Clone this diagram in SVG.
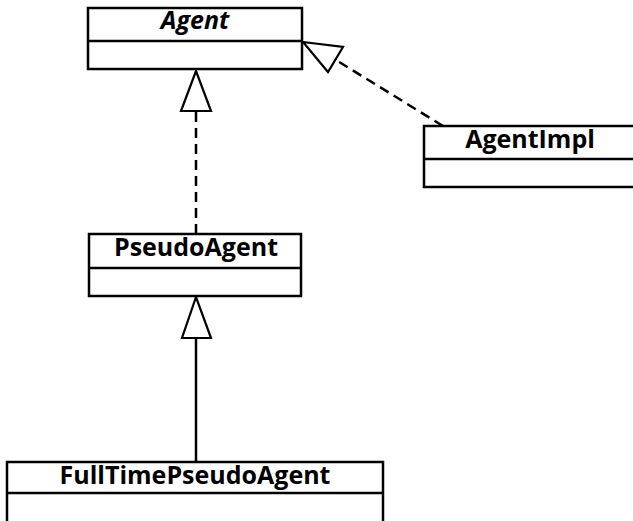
<svg xmlns="http://www.w3.org/2000/svg" width="633" height="521" viewBox="0 0 633 521">
<style>
.box{fill:#fff;stroke:#000;stroke-width:2.5}
.div{stroke:#000;stroke-width:2.5}
.t{font-family:"Open Sans","DejaVu Sans",sans-serif;font-weight:bold;font-size:25px;text-anchor:middle;fill:#000}
.edge{fill:none;stroke:#000;stroke-width:2.5}
.dash{stroke-dasharray:10,6}
.head{fill:#fff;stroke:#000;stroke-width:2.2;stroke-linejoin:miter}
</style>
<rect width="633" height="521" fill="#fff"/>
<g id="connectors">
<line class="edge dash" x1="196" y1="234" x2="196" y2="111"/>
<polygon class="head" points="196,71 181,111 211,111"/>
<line class="edge" x1="196" y1="462" x2="196" y2="338"/>
<polygon class="head" points="196,297 182,338 211,338"/>
<line class="edge dash" x1="443" y1="126" x2="336" y2="60"/>
<polygon class="head" points="303,42 343,47 328,72"/>
</g>
<g id="Agent">
<rect class="box" x="88" y="8" width="214" height="61"/>
<line class="div" x1="88" y1="41" x2="302" y2="41"/>
<text class="t" x="195" y="29" font-style="italic">Agent</text>
</g>
<g id="AgentImpl">
<rect class="box" x="424" y="126" width="220" height="61"/>
<line class="div" x1="424" y1="159" x2="644" y2="159"/>
<text class="t" x="530" y="148">AgentImpl</text>
</g>
<g id="PseudoAgent">
<rect class="box" x="89" y="234" width="212" height="62"/>
<line class="div" x1="89" y1="268" x2="301" y2="268"/>
<text class="t" x="196" y="256">PseudoAgent</text>
</g>
<g id="FullTimePseudoAgent">
<rect class="box" x="7" y="462" width="376" height="70"/>
<line class="div" x1="7" y1="493" x2="383" y2="493"/>
<text class="t" x="195" y="484">FullTimePseudoAgent</text>
</g>
</svg>
